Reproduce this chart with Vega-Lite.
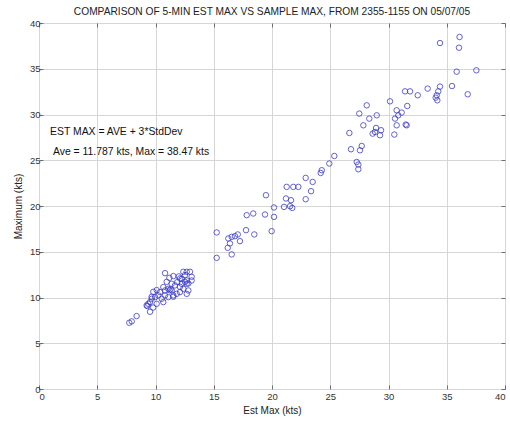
{
  "$schema": "https://vega.github.io/schema/vega-lite/v6.json",
  "width": 466,
  "height": 366,
  "autosize": {"type": "none"},
  "padding": {"left": 39, "top": 23, "right": 5, "bottom": 32},
  "background": "white",
  "title": {
    "text": "COMPARISON OF 5-MIN EST MAX VS SAMPLE MAX, FROM 2355-1155 ON 05/07/05",
    "font": "Liberation Sans",
    "fontSize": 10.2,
    "fontWeight": "normal",
    "color": "#222222",
    "anchor": "middle",
    "offset": 1
  },
  "config": {
    "view": {"stroke": "#6e6e6e", "strokeWidth": 1},
    "axis": {
      "labelFont": "Liberation Sans",
      "labelFontSize": 9.5,
      "labelColor": "#333333",
      "titleFont": "Liberation Sans",
      "titleFontSize": 10,
      "titleFontWeight": "normal",
      "titleColor": "#222222",
      "domain": false,
      "tickColor": "#6e6e6e",
      "tickSize": -4,
      "gridColor": "#d6d6d6",
      "gridWidth": 1
    }
  },
  "datasets": {
    "samples": [
      {"est": 36.1, "max": 38.47}, {"est": 34.42, "max": 37.81}, {"est": 36.05, "max": 37.3},
      {"est": 35.85, "max": 34.68}, {"est": 37.54, "max": 34.83}, {"est": 35.45, "max": 33.11},
      {"est": 36.8, "max": 32.21}, {"est": 34.42, "max": 33.05}, {"est": 33.36, "max": 32.83},
      {"est": 34.27, "max": 32.53}, {"est": 34.14, "max": 32.1}, {"est": 34.05, "max": 31.84},
      {"est": 34.19, "max": 31.55}, {"est": 31.42, "max": 32.53}, {"est": 31.85, "max": 32.53},
      {"est": 32.51, "max": 32.1}, {"est": 31.61, "max": 30.93}, {"est": 31.13, "max": 30.21},
      {"est": 31.48, "max": 28.9},
      {"est": 28.13, "max": 31.0}, {"est": 30.13, "max": 31.44}, {"est": 27.49, "max": 30.1},
      {"est": 28.35, "max": 29.55}, {"est": 28.99, "max": 29.91}, {"est": 27.84, "max": 28.82},
      {"est": 28.93, "max": 28.53}, {"est": 29.36, "max": 28.28}, {"est": 28.64, "max": 27.91},
      {"est": 29.27, "max": 27.73}, {"est": 30.7, "max": 30.46}, {"est": 30.84, "max": 29.91},
      {"est": 30.56, "max": 29.55}, {"est": 30.7, "max": 28.82}, {"est": 30.5, "max": 27.81},
      {"est": 31.56, "max": 28.82}, {"est": 28.84, "max": 28.09}, {"est": 26.64, "max": 27.98},
      {"est": 26.78, "max": 26.2}, {"est": 27.55, "max": 26.09}, {"est": 27.7, "max": 26.56},
      {"est": 27.27, "max": 24.81}, {"est": 27.41, "max": 24.53}, {"est": 27.41, "max": 24.02},
      {"est": 25.35, "max": 25.47}, {"est": 24.92, "max": 24.64}, {"est": 24.27, "max": 23.91},
      {"est": 24.18, "max": 23.61}, {"est": 22.89, "max": 23.07}, {"est": 23.49, "max": 22.63},
      {"est": 23.35, "max": 21.62}, {"est": 22.89, "max": 20.74},
      {"est": 19.48, "max": 21.18}, {"est": 21.26, "max": 22.09}, {"est": 21.83, "max": 22.09},
      {"est": 22.26, "max": 22.09}, {"est": 21.2, "max": 20.82}, {"est": 21.63, "max": 20.63},
      {"est": 21.03, "max": 19.9}, {"est": 21.55, "max": 19.98}, {"est": 21.74, "max": 19.79},
      {"est": 20.17, "max": 19.84}, {"est": 20.17, "max": 18.81}, {"est": 19.4, "max": 19.07},
      {"est": 17.83, "max": 19.0}, {"est": 18.39, "max": 19.18}, {"est": 19.97, "max": 17.25},
      {"est": 18.48, "max": 16.89}, {"est": 17.77, "max": 17.36}, {"est": 17.06, "max": 16.89},
      {"est": 16.82, "max": 16.7}, {"est": 16.54, "max": 16.63}, {"est": 16.25, "max": 16.45},
      {"est": 17.25, "max": 16.16}, {"est": 16.39, "max": 15.91}, {"est": 16.2, "max": 15.43},
      {"est": 15.25, "max": 17.11}, {"est": 16.54, "max": 14.71}, {"est": 15.25, "max": 14.33},
      {"est": 7.75, "max": 7.24}, {"est": 7.96, "max": 7.39}, {"est": 8.38, "max": 7.97},
      {"est": 9.3, "max": 9.06}, {"est": 9.53, "max": 8.44}, {"est": 9.8, "max": 8.9},
      {"est": 9.24, "max": 9.14}, {"est": 9.38, "max": 9.31}, {"est": 9.53, "max": 9.5},
      {"est": 9.67, "max": 9.86}, {"est": 9.96, "max": 10.04}, {"est": 10.1, "max": 9.31},
      {"est": 10.24, "max": 10.23}, {"est": 10.39, "max": 10.59}, {"est": 10.53, "max": 9.86},
      {"est": 10.67, "max": 9.5}, {"est": 9.67, "max": 10.08}, {"est": 9.81, "max": 10.62},
      {"est": 10.1, "max": 10.81}, {"est": 10.82, "max": 12.66}, {"est": 10.96, "max": 11.71},
      {"est": 10.67, "max": 11.14}, {"est": 10.82, "max": 10.77}, {"est": 10.82, "max": 10.23},
      {"est": 11.1, "max": 10.04}, {"est": 11.1, "max": 10.95}, {"est": 11.2, "max": 10.8},
      {"est": 11.3, "max": 10.9}, {"est": 11.4, "max": 10.77}, {"est": 11.39, "max": 11.5},
      {"est": 11.67, "max": 11.32}, {"est": 11.53, "max": 10.23}, {"est": 11.82, "max": 10.4},
      {"est": 11.53, "max": 10.08}, {"est": 11.19, "max": 12.15}, {"est": 11.53, "max": 12.34},
      {"est": 11.87, "max": 11.68}, {"est": 12.0, "max": 12.3}, {"est": 12.1, "max": 12.08},
      {"est": 12.25, "max": 12.04}, {"est": 12.25, "max": 11.5}, {"est": 12.1, "max": 11.17},
      {"est": 12.1, "max": 10.59}, {"est": 12.39, "max": 10.95}, {"est": 12.39, "max": 12.81},
      {"est": 12.53, "max": 12.45}, {"est": 12.68, "max": 12.81}, {"est": 12.68, "max": 11.86},
      {"est": 12.68, "max": 11.5}, {"est": 12.68, "max": 10.4}, {"est": 12.82, "max": 10.77},
      {"est": 12.82, "max": 11.54}, {"est": 12.96, "max": 12.81}, {"est": 13.1, "max": 12.26},
      {"est": 13.1, "max": 11.86}, {"est": 12.53, "max": 11.71}
    ],
    "notes": [
      {"est": 0.95, "max": 28.05, "line": "EST MAX = AVE + 3*StdDev"},
      {"est": 1.2, "max": 25.85, "line": "Ave = 11.787 kts, Max = 38.47 kts"}
    ]
  },
  "resolve": {"axis": {"x": "independent", "y": "independent"}},
  "layer": [
    {
      "data": {"name": "samples"},
      "mark": {"type": "point", "shape": "circle", "filled": false, "size": 30, "stroke": "#3434c4", "strokeWidth": 0.9, "opacity": 0.85},
      "encoding": {
        "x": {
          "field": "est", "type": "quantitative",
          "scale": {"domain": [0, 40], "nice": false},
          "axis": {"title": "Est Max (kts)", "values": [0, 5, 10, 15, 20, 25, 30, 35, 40], "labelPadding": 6, "titlePadding": 5}
        },
        "y": {
          "field": "max", "type": "quantitative",
          "scale": {"domain": [0, 40], "nice": false},
          "axis": {"title": "Maximum (kts)", "values": [0, 5, 10, 15, 20, 25, 30, 35, 40], "labelPadding": 3, "titlePadding": 6}
        }
      }
    },
    {
      "data": {"name": "samples"},
      "mark": {"type": "point", "opacity": 0},
      "encoding": {
        "x": {"field": "est", "type": "quantitative", "axis": {"orient": "top", "labels": false, "grid": false, "title": null, "values": [0, 5, 10, 15, 20, 25, 30, 35, 40]}},
        "y": {"field": "max", "type": "quantitative", "axis": {"orient": "right", "labels": false, "grid": false, "title": null, "values": [0, 5, 10, 15, 20, 25, 30, 35, 40]}}
      }
    },
    {
      "data": {"name": "notes"},
      "mark": {"type": "text", "align": "left", "baseline": "middle", "font": "Liberation Sans", "fontSize": 10.4, "color": "#111111"},
      "encoding": {
        "x": {"field": "est", "type": "quantitative", "axis": null},
        "y": {"field": "max", "type": "quantitative", "axis": null},
        "text": {"field": "line", "type": "nominal"}
      }
    }
  ]
}
